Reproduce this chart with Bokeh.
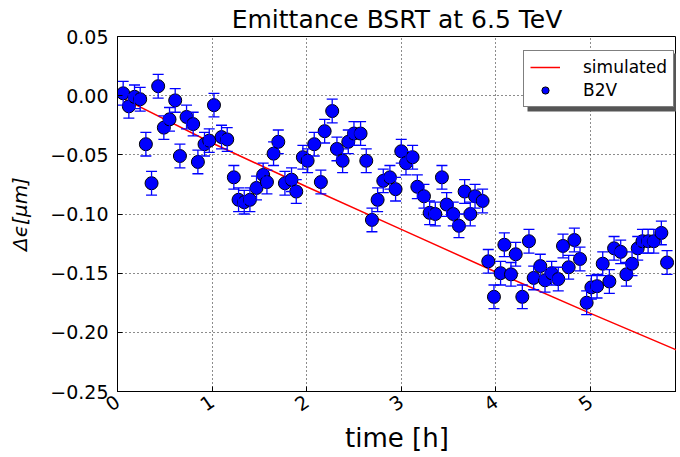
import math
from bokeh.plotting import figure
from bokeh.models import (ColumnDataSource, Whisker, TeeHead, Range1d, FixedTicker,
                          CustomJSTickFormatter, Legend, LegendItem, BoxAnnotation)
from bokeh.embed import file_html
from bokeh.resources import INLINE

# measured data (B2V)
time_h = [0.06, 0.12, 0.18, 0.24, 0.30, 0.36, 0.43, 0.49, 0.55, 0.61, 0.66, 0.73, 0.80, 0.85,
          0.92, 0.97, 1.02, 1.10, 1.16, 1.23, 1.28, 1.34, 1.40, 1.47, 1.54, 1.58, 1.65, 1.70,
          1.77, 1.84, 1.89, 1.96, 2.01, 2.08, 2.15, 2.19, 2.27, 2.32, 2.38, 2.44, 2.50, 2.57,
          2.63, 2.69, 2.75, 2.81, 2.88, 2.94, 3.00, 3.05, 3.12, 3.17, 3.24, 3.30, 3.36, 3.43,
          3.48, 3.55, 3.61, 3.67, 3.73, 3.78, 3.86, 3.92, 3.98, 4.05, 4.09, 4.16, 4.21, 4.28,
          4.35, 4.40, 4.47, 4.52, 4.59, 4.66, 4.71, 4.77, 4.83, 4.89, 4.96, 5.01, 5.07, 5.13,
          5.20, 5.25, 5.32, 5.38, 5.44, 5.50, 5.55, 5.61, 5.67, 5.75, 5.81]
b2v = [0.002, -0.009, -0.001, -0.003, -0.041, -0.074, 0.008, -0.027, -0.020, -0.004, -0.051,
       -0.018, -0.024, -0.056, -0.041, -0.038, -0.008, -0.035, -0.037, -0.069, -0.088, -0.090,
       -0.088, -0.078, -0.067, -0.073, -0.049, -0.039, -0.074, -0.071, -0.081, -0.052, -0.055,
       -0.041, -0.073, -0.030, -0.013, -0.045, -0.055, -0.039, -0.032, -0.032, -0.055, -0.105,
       -0.088, -0.072, -0.069, -0.079, -0.047, -0.057, -0.052, -0.077, -0.085, -0.099, -0.100,
       -0.069, -0.092, -0.100, -0.110, -0.081, -0.100, -0.085, -0.089, -0.140, -0.170, -0.150,
       -0.126, -0.151, -0.134, -0.170, -0.123, -0.154, -0.144, -0.156, -0.150, -0.155, -0.127,
       -0.145, -0.122, -0.138, -0.175, -0.162, -0.161, -0.142, -0.157, -0.129, -0.132, -0.151,
       -0.142, -0.129, -0.123, -0.123, -0.123, -0.116, -0.141]
b2v_err = 0.01

# simulated curve
sim_time = [0, 1, 2, 3, 4, 5, 6]
sim_values = [0.0, -0.040, -0.077, -0.113, -0.149, -0.184, -0.218]

x_ticks = [0, 1, 2, 3, 4, 5, 6]
y_ticks = [0.05, 0.0, -0.05, -0.10, -0.15, -0.20, -0.25]

src = ColumnDataSource(dict(
    t=time_h, v=b2v,
    lo=[v - b2v_err for v in b2v], hi=[v + b2v_err for v in b2v]))

p = figure(width=676, height=455, output_backend="svg", toolbar_location=None,
           x_range=Range1d(0, 5.91), y_range=Range1d(-0.25, 0.05),
           min_border_left=117, min_border_right=0, min_border_top=35, min_border_bottom=64,
           title="Emittance BSRT at 6.5 TeV")
p.title.align = "center"
p.title.text_font = "DejaVu Sans"
p.title.text_font_size = "25px"
p.title.text_font_style = "normal"
p.title.text_color = "black"
p.title.standoff = 5

p.background_fill_color = "white"
p.border_fill_color = "white"
p.outline_line_color = "black"
p.outline_line_width = 1
p.outline_line_alpha = 1

for g in (p.xgrid, p.ygrid):
    g.grid_line_color = "black"
    g.grid_line_dash = "1 3"
    g.grid_line_alpha = 0.9
    g.grid_line_width = 1

p.xaxis.ticker = FixedTicker(ticks=x_ticks)
p.yaxis.ticker = FixedTicker(ticks=y_ticks)
p.yaxis.formatter = CustomJSTickFormatter(
    code="if (Math.abs(tick) < 1e-9) {return '0.00';} return tick.toFixed(2).replace('-', '\u2212');")

for ax in (p.xaxis, p.yaxis):
    ax.major_tick_in = 5
    ax.major_tick_out = 0
    ax.minor_tick_in = 0
    ax.minor_tick_out = 0
    ax.axis_line_color = "black"
    ax.major_tick_line_color = "black"
    ax.major_label_text_font = "DejaVu Sans"
    ax.major_label_text_font_size = "19px"
    ax.major_label_text_color = "black"
    ax.axis_label_text_font = "DejaVu Sans"
    ax.axis_label_text_font_style = "normal"
    ax.axis_label_text_color = "black"

p.xaxis.major_label_orientation = 0.6
p.xaxis.major_label_standoff = 8
p.xaxis.axis_label = "time [h]"
p.xaxis.axis_label_text_font_size = "26px"
p.xaxis.axis_label_standoff = 2

p.yaxis.major_label_standoff = 9
p.yaxis.axis_label = "Δϵ[μm]"
p.yaxis.axis_label_text_font_size = "20px"
p.yaxis.axis_label_text_font_style = "italic"
p.yaxis.axis_label_standoff = 15

line_r = p.line(sim_time, sim_values, line_color="#ff0000", line_width=1.5)

whisk = Whisker(source=src, base="t", lower="lo", upper="hi", dimension="height",
                line_color="#0000ff", line_width=1.3,
                lower_head=TeeHead(size=11, line_color="#0000ff", line_width=1.3),
                upper_head=TeeHead(size=11, line_color="#0000ff", line_width=1.3),
                level="glyph")
p.add_layout(whisk)

pts = p.scatter("t", "v", source=src, size=13, fill_color="#0000ff",
                line_color="black", line_width=1)

# legend geometry (frame-relative screen px)
LEG_X, LEG_Y = 406, 284
LEG_PAD, LEG_GW, LEG_STANDOFF, LEG_LW = 6, 30, 23, 84
LEG_W = 2 * LEG_PAD + LEG_GW + LEG_STANDOFF + LEG_LW
LEG_H = 58
SH = 4

shadow = BoxAnnotation(left=LEG_X + SH, right=LEG_X + LEG_W + SH,
                       bottom=LEG_Y - SH, top=LEG_Y + LEG_H - SH,
                       left_units="screen", right_units="screen",
                       bottom_units="screen", top_units="screen",
                       fill_color="#555555", fill_alpha=1, line_color=None)
p.add_layout(shadow)

legend = Legend(items=[LegendItem(label="simulated", renderers=[line_r]),
                       LegendItem(label="B2V", renderers=[pts])],
                location=(LEG_X, LEG_Y))
legend.label_text_font = "DejaVu Sans"
legend.label_text_font_size = "17px"
legend.label_text_color = "black"
legend.glyph_width = LEG_GW
legend.glyph_height = 18
legend.label_height = 18
legend.label_width = LEG_LW
legend.label_standoff = LEG_STANDOFF
legend.padding = LEG_PAD
legend.spacing = 3
legend.border_line_color = "black"
legend.border_line_width = 1
legend.background_fill_color = "white"
legend.background_fill_alpha = 1
p.add_layout(legend)

open("out.html", "w").write(file_html(p, INLINE))
